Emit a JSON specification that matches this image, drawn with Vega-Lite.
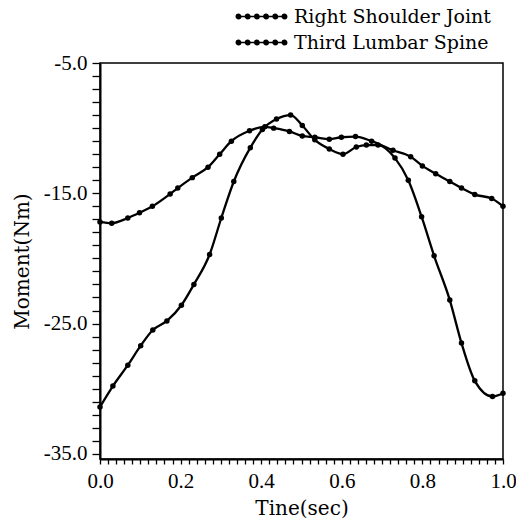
{
  "$schema": "https://vega.github.io/schema/vega-lite/v6.json",
  "autosize": "none",
  "width": 403,
  "height": 396,
  "padding": {"left": 100, "top": 63, "right": 13, "bottom": 64},
  "background": "white",
  "config": {
    "font": "DejaVu Serif",
    "view": {"stroke": "black", "strokeWidth": 1.5},
    "axis": {
      "grid": false,
      "domainColor": "black",
      "domainWidth": 2,
      "tickColor": "black",
      "tickWidth": 1.3,
      "labelColor": "black",
      "titleColor": "black",
      "labelFont": "Liberation Serif",
      "titleFont": "DejaVu Serif",
      "labelFontSize": 21,
      "titleFontSize": 20,
      "titleFontWeight": "normal",
      "labelOverlap": false,
      "labelFlush": false
    },
    "legend": {
      "labelFont": "DejaVu Serif",
      "labelFontSize": 19,
      "labelColor": "black",
      "labelLimit": 0
    }
  },
  "data": {
    "values": [
      {"series": "Right Shoulder Joint", "t": 0.0, "m": -31.4},
      {"series": "Right Shoulder Joint", "t": 0.032, "m": -29.8},
      {"series": "Right Shoulder Joint", "t": 0.069, "m": -28.2},
      {"series": "Right Shoulder Joint", "t": 0.101, "m": -26.7},
      {"series": "Right Shoulder Joint", "t": 0.131, "m": -25.5},
      {"series": "Right Shoulder Joint", "t": 0.166, "m": -24.8},
      {"series": "Right Shoulder Joint", "t": 0.202, "m": -23.6},
      {"series": "Right Shoulder Joint", "t": 0.233, "m": -22.0},
      {"series": "Right Shoulder Joint", "t": 0.272, "m": -19.7},
      {"series": "Right Shoulder Joint", "t": 0.301, "m": -16.9},
      {"series": "Right Shoulder Joint", "t": 0.332, "m": -14.1},
      {"series": "Right Shoulder Joint", "t": 0.373, "m": -11.5},
      {"series": "Right Shoulder Joint", "t": 0.403, "m": -10.1},
      {"series": "Right Shoulder Joint", "t": 0.438, "m": -9.3},
      {"series": "Right Shoulder Joint", "t": 0.473, "m": -9.0},
      {"series": "Right Shoulder Joint", "t": 0.502, "m": -9.8},
      {"series": "Right Shoulder Joint", "t": 0.533, "m": -10.9},
      {"series": "Right Shoulder Joint", "t": 0.569, "m": -11.6},
      {"series": "Right Shoulder Joint", "t": 0.603, "m": -12.0},
      {"series": "Right Shoulder Joint", "t": 0.636, "m": -11.45},
      {"series": "Right Shoulder Joint", "t": 0.661, "m": -11.3},
      {"series": "Right Shoulder Joint", "t": 0.69, "m": -11.3},
      {"series": "Right Shoulder Joint", "t": 0.732, "m": -12.3},
      {"series": "Right Shoulder Joint", "t": 0.765, "m": -14.0},
      {"series": "Right Shoulder Joint", "t": 0.798, "m": -16.8},
      {"series": "Right Shoulder Joint", "t": 0.829, "m": -19.8},
      {"series": "Right Shoulder Joint", "t": 0.868, "m": -23.2},
      {"series": "Right Shoulder Joint", "t": 0.897, "m": -26.5},
      {"series": "Right Shoulder Joint", "t": 0.93, "m": -29.4},
      {"series": "Right Shoulder Joint", "t": 0.974, "m": -30.6},
      {"series": "Right Shoulder Joint", "t": 1.0, "m": -30.35},
      {"series": "Third Lumbar Spine", "t": 0.0, "m": -17.2},
      {"series": "Third Lumbar Spine", "t": 0.029, "m": -17.3},
      {"series": "Third Lumbar Spine", "t": 0.069, "m": -16.9},
      {"series": "Third Lumbar Spine", "t": 0.098, "m": -16.5},
      {"series": "Third Lumbar Spine", "t": 0.13, "m": -16.0},
      {"series": "Third Lumbar Spine", "t": 0.174, "m": -15.05},
      {"series": "Third Lumbar Spine", "t": 0.193, "m": -14.6},
      {"series": "Third Lumbar Spine", "t": 0.229, "m": -13.8},
      {"series": "Third Lumbar Spine", "t": 0.268, "m": -13.0},
      {"series": "Third Lumbar Spine", "t": 0.297, "m": -12.0},
      {"series": "Third Lumbar Spine", "t": 0.326, "m": -11.0},
      {"series": "Third Lumbar Spine", "t": 0.371, "m": -10.2},
      {"series": "Third Lumbar Spine", "t": 0.409, "m": -9.9},
      {"series": "Third Lumbar Spine", "t": 0.431, "m": -10.0},
      {"series": "Third Lumbar Spine", "t": 0.47, "m": -10.25},
      {"series": "Third Lumbar Spine", "t": 0.502, "m": -10.6},
      {"series": "Third Lumbar Spine", "t": 0.533, "m": -10.7},
      {"series": "Third Lumbar Spine", "t": 0.569, "m": -10.85},
      {"series": "Third Lumbar Spine", "t": 0.599, "m": -10.7},
      {"series": "Third Lumbar Spine", "t": 0.634, "m": -10.65},
      {"series": "Third Lumbar Spine", "t": 0.674, "m": -11.0},
      {"series": "Third Lumbar Spine", "t": 0.727, "m": -11.7},
      {"series": "Third Lumbar Spine", "t": 0.771, "m": -12.2},
      {"series": "Third Lumbar Spine", "t": 0.8, "m": -12.9},
      {"series": "Third Lumbar Spine", "t": 0.833, "m": -13.5},
      {"series": "Third Lumbar Spine", "t": 0.868, "m": -14.1},
      {"series": "Third Lumbar Spine", "t": 0.897, "m": -14.6},
      {"series": "Third Lumbar Spine", "t": 0.93, "m": -15.1},
      {"series": "Third Lumbar Spine", "t": 0.972, "m": -15.4},
      {"series": "Third Lumbar Spine", "t": 1.0, "m": -16.0}
    ]
  },
  "mark": {
    "type": "line",
    "interpolate": "monotone",
    "strokeWidth": 2.3,
    "point": {"filled": true, "size": 30, "color": "black"}
  },
  "encoding": {
    "x": {
      "field": "t",
      "type": "quantitative",
      "scale": {"domain": [0, 1], "nice": false, "zero": false},
      "axis": {
        "title": "Tine(sec)",
        "values": [0, 0.02, 0.04, 0.06, 0.08, 0.1, 0.12, 0.14, 0.16, 0.18, 0.2, 0.22, 0.24, 0.26, 0.28, 0.3, 0.32, 0.34, 0.36, 0.38, 0.4, 0.42, 0.44, 0.46, 0.48, 0.5, 0.52, 0.54, 0.56, 0.58, 0.6, 0.62, 0.64, 0.66, 0.68, 0.7, 0.72, 0.74, 0.76, 0.78, 0.8, 0.82, 0.84, 0.86, 0.88, 0.9, 0.92, 0.94, 0.96, 0.98, 1.0],
        "labelExpr": "abs(datum.value * 5 - round(datum.value * 5)) < 0.001 ? format(datum.value, '.1f') : ''",
        "tickSize": 5,
        "labelPadding": 6,
        "titlePadding": 7
      }
    },
    "y": {
      "field": "m",
      "type": "quantitative",
      "scale": {"domain": [-35.4, -5], "nice": false, "zero": false},
      "axis": {
        "title": "Moment(Nm)",
        "values": [-35, -34, -33, -32, -31, -30, -29, -28, -27, -26, -25, -24, -23, -22, -21, -20, -19, -18, -17, -16, -15, -14, -13, -12, -11, -10, -9, -8, -7, -6, -5],
        "labelExpr": "abs(datum.value % 10) == 5 ? '-' + format(abs(datum.value), '.1f') : ''",
        "tickSize": 8,
        "labelPadding": 5,
        "titlePadding": 11
      }
    },
    "color": {
      "field": "series",
      "type": "nominal",
      "scale": {"range": ["black", "black"]},
      "legend": {
        "title": null,
        "orient": "none",
        "legendX": 152,
        "legendY": -56,
        "padding": 0,
        "symbolType": "M-3,0L3,0M-3.29,0a0.29,0.29 0 1,0 0.58,0a0.29,0.29 0 1,0 -0.58,0M-2.09,0a0.29,0.29 0 1,0 0.58,0a0.29,0.29 0 1,0 -0.58,0M-0.89,0a0.29,0.29 0 1,0 0.58,0a0.29,0.29 0 1,0 -0.58,0M0.31,0a0.29,0.29 0 1,0 0.58,0a0.29,0.29 0 1,0 -0.58,0M1.51,0a0.29,0.29 0 1,0 0.58,0a0.29,0.29 0 1,0 -0.58,0M2.71,0a0.29,0.29 0 1,0 0.58,0a0.29,0.29 0 1,0 -0.58,0",
        "symbolSize": 235,
        "symbolStrokeWidth": 1.5,
        "symbolFillColor": "black",
        "symbolStrokeColor": "black",
        "labelOffset": 23,
        "rowPadding": 6
      }
    }
  }
}
